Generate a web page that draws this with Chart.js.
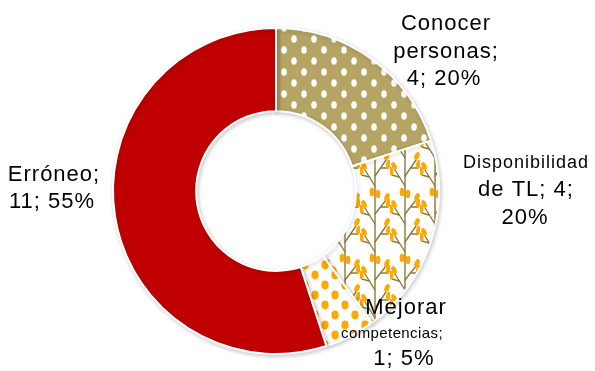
<!DOCTYPE html>
<html>
<head>
<meta charset="utf-8">
<script src="https://cdn.jsdelivr.net/npm/chart.js@4/dist/chart.umd.min.js"></script>
<style>
  html, body { margin: 0; padding: 0; background: #fff; }
  canvas { display: block; }
</style>
</head>
<body>
<canvas id="c" width="595" height="371"></canvas>
<script>
// ---- data ----
const categories = ['Conocer personas', 'Disponibilidad de TL', 'Mejorar competencias', 'Erróneo'];
const values = [4, 4, 1, 11];
// how the words of each data label are grouped into lines
const labelLineGroups = [
  [[0], [1], [2, 3]],
  [[0], [1, 2, 3], [4]],
  [[0], [1], [2, 3]],
  [[0], [1, 2]]
];

// ---- label layout (style) ----
const labelLayout = [
  { x: [446, 446, 444], y: [30, 57.5, 85], size: [22, 22, 22] },
  { x: [526, 526, 525], y: [168, 196, 224], size: [18, 22, 22] },
  { x: [406, 392, 404], y: [314, 338, 365], size: [22, 15, 22] },
  { x: [54, 52],  y: [181, 208], size: [22, 22] }
];

// ---- patterns ----
function makeTile(w, h, draw) {
  const c = document.createElement('canvas');
  c.width = w; c.height = h;
  const g = c.getContext('2d');
  draw(g, w, h);
  return document.getElementById('c').getContext('2d').createPattern(c, 'repeat');
}
const OLIVE = '#B5A463';
const ORANGE = '#FFA800';
const STEM = '#8C7A3A';

const dotPattern = makeTile(20, 22, (g, w, h) => {
  g.fillStyle = OLIVE; g.fillRect(0, 0, w, h);
  g.fillStyle = '#ffffff';
  [[4, 6], [14, 17]].forEach(([x, y]) => {
    g.beginPath(); g.ellipse(x, y, 2.8, 3.8, 0, 0, Math.PI * 2); g.fill();
  });
});

const floralPattern = makeTile(30, 66, (g, w, h) => {
  g.fillStyle = '#ffffff'; g.fillRect(0, 0, w, h);
  g.strokeStyle = STEM; g.lineWidth = 1.4; g.lineCap = 'round';
  const line = (a, b, c, d) => { g.beginPath(); g.moveTo(a, b); g.lineTo(c, d); g.stroke(); };
  line(15, 66, 15, 0);
  line(15, 54, 5, 38); line(9, 45, 2, 43);
  line(15, 44, 26, 28); line(21, 36, 28, 36);
  line(15, 26, 5, 10); line(9, 17, 2, 15);
  line(15, 16, 26, 2); line(21, 9, 28, 9);
  g.fillStyle = ORANGE;
  const leaf = (x, y, r) => { g.beginPath(); g.ellipse(x, y, 2.4, 4.2, r, 0, Math.PI * 2); g.fill(); };
  leaf(4, 34, -0.4); leaf(1, 39, -0.2);
  leaf(27, 24, 0.4); leaf(28.5, 32, 0.2);
  leaf(4, 6, -0.4); leaf(1, 11, -0.2);
  leaf(27, -1, 0.4); leaf(28.5, 5, 0.2); leaf(27, 65, 0.4);
  leaf(12, 60, 0); leaf(18, 62, 0);
});

const orangeDotPattern = makeTile(20, 20, (g, w, h) => {
  g.fillStyle = '#ffffff'; g.fillRect(0, 0, w, h);
  g.fillStyle = ORANGE;
  [[5, 5], [15, 15]].forEach(([x, y]) => {
    g.beginPath(); g.ellipse(x, y, 3.6, 4.4, 0, 0, Math.PI * 2); g.fill();
  });
});

const fills = [dotPattern, floralPattern, orangeDotPattern, '#C00000'];

// ---- plugins ----
const shadowPlugin = {
  id: 'ringShadow',
  beforeDatasetsDraw(chart) {
    const ctx = chart.ctx;
    ctx.save();
    ctx.shadowColor = 'rgba(0,0,0,0.2)';
    ctx.shadowBlur = 4;
    ctx.shadowOffsetX = 1;
    ctx.shadowOffsetY = 1.5;
  },
  afterDatasetsDraw(chart) { chart.ctx.restore(); }
};

const labelPlugin = {
  id: 'sliceLabels',
  afterDraw(chart) {
    const ctx = chart.ctx;
    const ds = chart.data.datasets[0].data;
    const total = ds.reduce((a, b) => a + b, 0);
    ctx.save();
    ctx.fillStyle = '#000000';
    ctx.textAlign = 'center';
    ctx.textBaseline = 'alphabetic';
    chart.data.labels.forEach((cat, i) => {
      const pct = Math.round(ds[i] / total * 100);
      const words = `${cat}; ${ds[i]}; ${pct}%`.split(' ');
      const lay = labelLayout[i];
      labelLineGroups[i].forEach((grp, j) => {
        const txt = grp.map(k => words[k]).join(' ');
        ctx.font = `${lay.size[j]}px "Liberation Sans", Arial, sans-serif`;
        ctx.letterSpacing = lay.size[j] < 16 ? '0.4px' : '1px';
        ctx.fillText(txt, lay.x[j], lay.y[j]);
      });
    });
    ctx.restore();
  }
};

new Chart(document.getElementById('c'), {
  type: 'doughnut',
  data: {
    labels: categories,
    datasets: [{
      data: values,
      backgroundColor: fills,
      borderColor: '#ffffff',
      borderWidth: 2,
      hoverOffset: 0
    }]
  },
  options: {
    responsive: false,
    animation: false,
    cutout: '49%',
    layout: { padding: { top: 27, bottom: 16, left: 112, right: 155 } },
    plugins: {
      legend: { display: false },
      tooltip: { enabled: false }
    },
    events: []
  },
  plugins: [shadowPlugin, labelPlugin]
});
</script>
</body>
</html>
